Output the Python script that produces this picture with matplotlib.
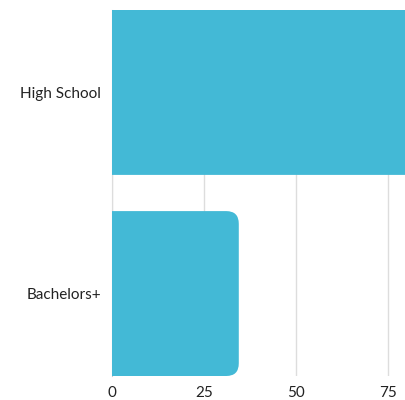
import matplotlib
matplotlib.use("Agg")
import matplotlib.pyplot as plt
from matplotlib.path import Path
from matplotlib.patches import PathPatch

categories = ["High School", "Bachelors+"]
values = [85, 34.5]
xticks = [0, 25, 50, 75]

BAR_COLOR = "#43b9d6"
BAR_H = 0.82

plt.rcParams["font.family"] = ["Lato", "DejaVu Sans"]

fig = plt.figure(figsize=(4.06, 4.0), dpi=100)
ax = fig.add_axes([112 / 406, 24 / 400, 294 / 406, 366 / 400])

def rounded_bar(y, w, h, rx, ry):
    # bar from 0 to w, rounded only on the right end
    y0, y1 = y - h / 2, y + h / 2
    verts = [(0, y0), (w - rx, y0), (w, y0), (w, y0 + ry),
             (w, y1 - ry), (w, y1), (w - rx, y1), (0, y1), (0, y0)]
    codes = [Path.MOVETO, Path.LINETO, Path.CURVE3, Path.CURVE3,
             Path.LINETO, Path.CURVE3, Path.CURVE3, Path.LINETO, Path.CLOSEPOLY]
    return Path(verts, codes)

ypos = list(range(len(categories)))
for y, v in zip(ypos, values):
    ax.add_patch(PathPatch(rounded_bar(y, v, BAR_H, 3.4, 0.063),
                           facecolor=BAR_COLOR, edgecolor="none", zorder=2))

ax.set_xlim(0, 80)
ax.set_ylim(len(categories) - 1 + BAR_H / 2, -BAR_H / 2)
ax.set_yticks(ypos)
ax.set_yticklabels(categories)
ax.set_xticks(xticks)
ax.tick_params(length=0, labelsize=11, colors="#222222")
ax.tick_params(axis="y", pad=8)
ax.tick_params(axis="x", pad=7.5)

ax.grid(axis="x", color="#dddddd", linewidth=1, zorder=0)
ax.set_axisbelow(True)
for s in ["top", "right", "bottom"]:
    ax.spines[s].set_visible(False)
ax.spines["left"].set_color("#cccccc")
ax.spines["left"].set_zorder(0)

fig.savefig("out.png", dpi=100)
